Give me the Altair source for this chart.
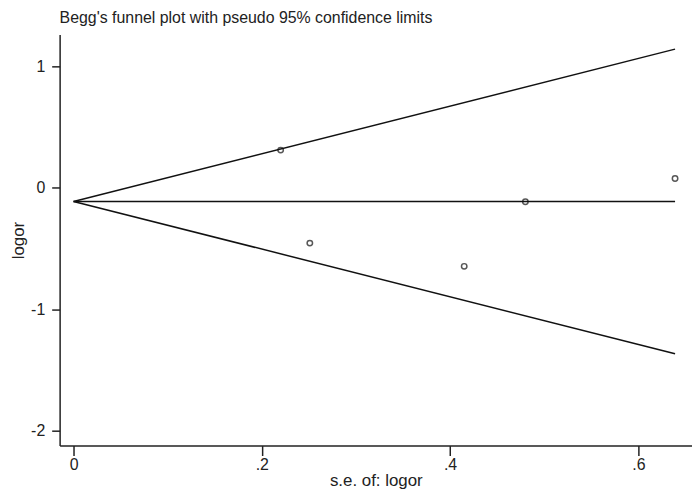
import altair as alt
import pandas as pd

# Study-level data
se = [0.220, 0.251, 0.415, 0.480, 0.639]
logor = [0.310, -0.455, -0.646, -0.115, 0.076]
pooled = -0.112
z = 1.96

x_ticks = [0, 0.2, 0.4, 0.6]
y_ticks = [-2, -1, 0, 1]

FONT = "Liberation Sans"

pts = pd.DataFrame({"se": se, "logor": logor})
se_max = max(se)
lines = pd.DataFrame({
    "se": [0, se_max, 0, se_max, 0, se_max],
    "val": [pooled, pooled + z * se_max, pooled, pooled, pooled, pooled - z * se_max],
    "grp": ["upper", "upper", "mid", "mid", "lower", "lower"],
})

xscale = alt.Scale(domain=[-0.0148, 0.657], nice=False, zero=False)
yscale = alt.Scale(domain=[-2.12, 1.26], nice=False, zero=False)

xaxis = alt.Axis(
    values=x_ticks, title="s.e. of: logor", grid=False,
    labelExpr="datum.value == 0 ? '0' : replace(format(datum.value, '.1f'), '0.', '.')",
    tickSize=10, labelPadding=1, titlePadding=0,
    domainColor="#222", tickColor="#222", domainWidth=1.5, tickWidth=1.5,
    labelFont=FONT, titleFont=FONT, labelFontSize=16, titleFontSize=17,
    titleFontWeight="normal", labelColor="#222", titleColor="#222",
)
yaxis = alt.Axis(
    values=y_ticks, title="logor", grid=False,
    labelExpr="'' + datum.value",
    tickSize=8, labelPadding=7, titlePadding=3,
    domainColor="#222", tickColor="#222", domainWidth=1.5, tickWidth=1.5,
    labelFont=FONT, titleFont=FONT, labelFontSize=16, titleFontSize=17,
    titleFontWeight="normal", labelColor="#222", titleColor="#222",
)

line_layer = alt.Chart(lines).mark_line(color="#111", strokeWidth=1.5).encode(
    x=alt.X("se:Q", scale=xscale, axis=xaxis),
    y=alt.Y("val:Q", scale=yscale, axis=yaxis),
    detail="grp:N",
)

pt_layer = alt.Chart(pts).mark_point(
    shape="circle", filled=False, color="#111", size=30, strokeWidth=1.5
).encode(
    x=alt.X("se:Q", scale=xscale),
    y=alt.Y("logor:Q", scale=yscale),
)

chart = alt.layer(line_layer, pt_layer).properties(
    width=637, height=414,
    title=alt.TitleParams(
        "Begg's funnel plot with pseudo 95% confidence limits",
        anchor="start", frame="group", font=FONT, fontSize=16,
        fontWeight="normal", color="#222", offset=9,
    ),
    padding={"left": 52, "top": 25, "right": 0, "bottom": 48},
    autosize="none",
).configure_view(stroke=None)

chart.save("out.html", embed_options={"renderer": "svg", "actions": False})
